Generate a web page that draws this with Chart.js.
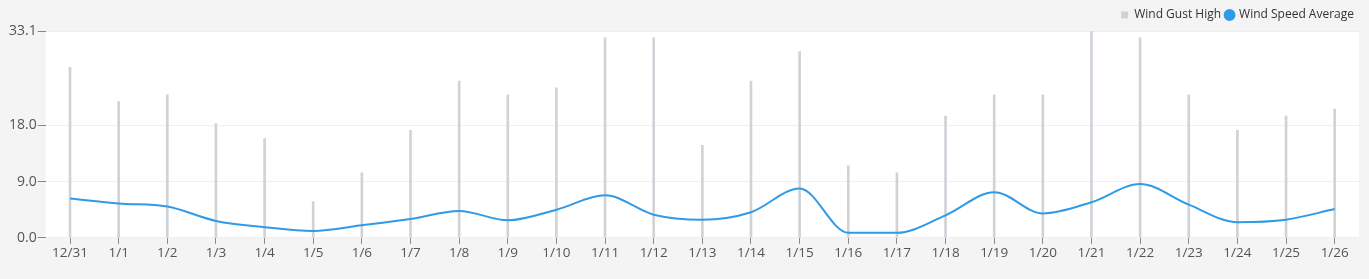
<!DOCTYPE html>
<html>
<head>
<meta charset="utf-8">
<script src="https://cdn.jsdelivr.net/npm/chart.js@4.4.1/dist/chart.umd.min.js"></script>
<style>
  html, body { margin: 0; padding: 0; background: #f4f4f4; }
  #wrap { width: 1369px; height: 279px; position: relative; }
</style>
</head>
<body>
<div id="wrap"><canvas id="wind_canvas"></canvas></div>
<script>
// data
const labels = ["12/31", "1/1", "1/2", "1/3", "1/4", "1/5", "1/6", "1/7", "1/8", "1/9", "1/10", "1/11", "1/12", "1/13",
  "1/14", "1/15", "1/16", "1/17", "1/18", "1/19", "1/20", "1/21", "1/22", "1/23", "1/24", "1/25", "1/26"];
const gustHigh = [27.3, 21.8, 22.9, 18.3, 15.9, 5.8, 10.4, 17.2, 25.1, 22.9, 24.0, 32.0, 32.0, 14.8,
  25.1, 29.8, 11.5, 10.4, 19.5, 22.9, 22.9, 33.1, 32.0, 22.9, 17.2, 19.5, 20.6];
const speedAvg = [6.3, 5.5, 5.0, 2.7, 1.7, 1.1, 2.0, 3.0, 4.3, 2.8, 4.5, 6.8, 3.7, 2.9,
  4.1, 7.9, 0.8, 0.8, 3.6, 7.3, 3.9, 5.7, 8.6, 5.3, 2.5, 2.9, 4.6];
const yTicks = [0, 9, 18, 33.1];

// fond blanc de la zone de tracé
const areaBg = {
  id: 'areaBg',
  beforeDraw(chart) {
    const a = chart.chartArea;
    const ctx = chart.ctx;
    ctx.save();
    ctx.fillStyle = '#ffffff';
    ctx.fillRect(a.left, a.top, a.right - a.left, a.bottom - a.top);
    ctx.restore();
  }
};

const wind_ctx = document.getElementById('wind_canvas').getContext('2d');
const wind_chart = new Chart(wind_ctx, {
  type: 'bar',
  data: {
    labels: labels,
    datasets: [
      {
        type: 'line',
        label: 'Wind Speed Average',
        data: speedAvg,
        borderColor: '#2f9be6',
        backgroundColor: '#2f9be6',
        borderWidth: 2,
        pointRadius: 0,
        pointStyle: 'circle',
        cubicInterpolationMode: 'monotone',
        fill: false,
        order: 1
      },
      {
        label: 'Wind Gust High',
        data: gustHigh,
        backgroundColor: '#cfd3d8',
        borderWidth: 0,
        barThickness: 2,
        pointStyle: 'rect',
        order: 2
      }
    ]
  },
  options: {
    responsive: true,
    maintainAspectRatio: false,
    animation: false,
    layout: { padding: { left: 8, right: 10, top: 4, bottom: 17 } },
    plugins: {
      legend: {
        position: 'top',
        align: 'end',
        reverse: true,
        labels: {
          usePointStyle: true,
          boxWidth: 7,
          boxHeight: 7,
          padding: 5,
          color: '#333',
          font: { family: 'Open Sans', size: 12 }
        }
      },
      tooltip: { enabled: false }
    },
    scales: {
      x: {
        grid: { display: true, offset: false, drawOnChartArea: false, drawTicks: true, tickLength: 6, color: '#888' },
        border: { display: false },
        ticks: { color: '#555', font: { family: 'Open Sans', size: 13.5 }, maxRotation: 0, autoSkip: false, padding: 1 }
      },
      y: {
        min: 0,
        max: 33.1,
        afterBuildTicks(axis) {
          axis.ticks = yTicks.map(v => ({ value: v }));
        },
        grid: { color: '#efefef', tickColor: '#888', tickLength: 8 },
        border: { display: false },
        ticks: {
          color: '#555',
          font: { family: 'Open Sans', size: 14 },
          padding: 1,
          callback: v => Number(v).toFixed(1)
        }
      }
    }
  },
  plugins: [areaBg]
});
</script>
</body>
</html>
